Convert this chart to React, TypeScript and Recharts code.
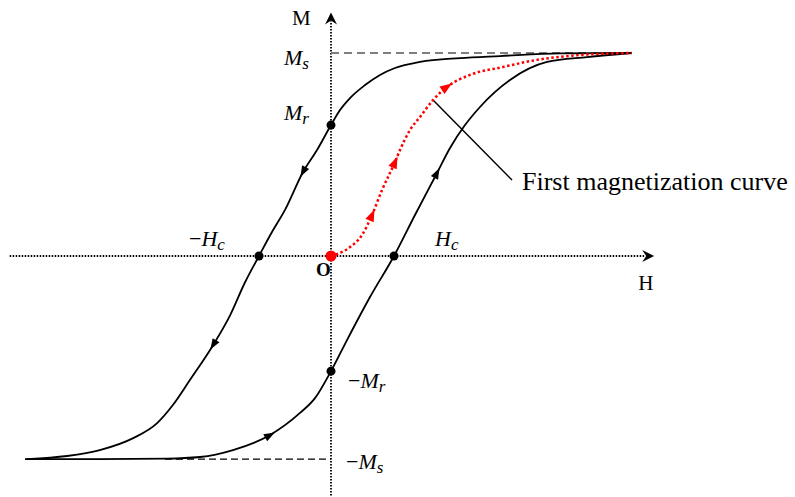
import { ComposedChart, Line, Scatter, XAxis, YAxis, ReferenceLine } from 'recharts';

const W = 795;
const HT = 497;
const H_DOMAIN: [number, number] = [-5.254, 7.365];
const M_DOMAIN: [number, number] = [-1.187, 1.261];

// descending branch (walked from +Ms down to -Ms), kept with H ascending
const upperH = [-4.83, -4.19, -3.67, -3.14, -2.76, -2.51, -2.24, -1.87, -1.6, -1.37, -1.143, -0.937, -0.73, -0.444, -0.222, 0, 0.143, 0.302, 0.54, 0.778, 1.016, 1.413, 2.048, 2.683, 3.635, 4.778];
const upperM = [-1.0, -0.985, -0.956, -0.897, -0.823, -0.734, -0.611, -0.438, -0.291, -0.133, 0, 0.118, 0.227, 0.414, 0.522, 0.645, 0.719, 0.778, 0.842, 0.892, 0.926, 0.956, 0.975, 0.985, 0.998, 1.0];

// ascending branch (-Ms back up to +Ms)
const lowerH = [-4.857, -3.667, -2.603, -2.079, -1.556, -0.968, -0.492, -0.254, 0, 0.254, 0.619, 1.0, 1.333, 1.683, 1.889, 2.127, 2.365, 2.841, 3.429, 4.063, 4.778];
const lowerM = [-1.0, -1.0, -0.998, -0.99, -0.956, -0.882, -0.773, -0.7, -0.567, -0.414, -0.202, 0, 0.202, 0.409, 0.532, 0.645, 0.734, 0.867, 0.956, 0.98, 1.0];

// first magnetization curve from the demagnetized origin
const virginH = [0, 0.302, 0.492, 0.651, 0.81, 1.016, 1.095, 1.254, 1.413, 1.619, 1.841, 2.206, 2.73, 3.27, 3.952, 4.778];
const virginM = [0, 0.044, 0.103, 0.202, 0.325, 0.463, 0.522, 0.621, 0.685, 0.768, 0.833, 0.892, 0.931, 0.966, 0.99, 1.0];

// indices along each branch that carry a direction arrow
const upperArrows = [7, 13];
const lowerArrows = [5, 13];
const virginArrows = [3, 5, 10];

const MS = 1;
const MR = 0.645;
const MR_NEG = -0.567;
const HC = 1;
const HC_NEG = -1.143;
const H_MIN = -5.1;
const H_TIP = 5.13;
const M_MIN = -1.18;
const M_TIP = 1.2;
const MS_DASH_FROM = -2.635;
const LEADER = [
  { h: 1.619, m: 0.768 },
  { h: 2.873, m: 0.374 },
];

const SX = W / (H_DOMAIN[1] - H_DOMAIN[0]);
const SY = HT / (M_DOMAIN[1] - M_DOMAIN[0]);

const zip = (h: number[], m: number[]) => h.map((v, i) => ({ h: v, m: m[i] }));
const upperData = zip(upperH, upperM);
const lowerData = zip(lowerH, lowerM);
const virginData = zip(virginH, virginM);

const SERIF = '"Liberation Serif", "Times New Roman", serif';

function rot(x: number, y: number, a: number, u: number, v: number) {
  const c = Math.cos(a);
  const s = Math.sin(a);
  return `${x + u * c - v * s},${y + u * s + v * c}`;
}

function arrowDot(h: number[], m: number[], marks: number[], reverse: boolean, color: string, len: number, half: number) {
  return (props: any) => {
    const { cx, cy, index } = props;
    if (!marks.includes(index)) return <g key={`d${index}`} />;
    const i0 = Math.max(0, index - 1);
    const i1 = Math.min(h.length - 1, index + 1);
    let dx = (h[i1] - h[i0]) * SX;
    let dy = -(m[i1] - m[i0]) * SY;
    if (reverse) {
      dx = -dx;
      dy = -dy;
    }
    const a = Math.atan2(dy, dx);
    const d = `M${rot(cx, cy, a, len / 2, 0)} L${rot(cx, cy, a, -len / 2, half)} L${rot(cx, cy, a, -len / 2, -half)} Z`;
    return <path key={`d${index}`} d={d} fill={color} stroke="none" />;
  };
}

// stealth-style arrowhead for the axes, tip at the data point
function axisHead(angle: number) {
  return (props: any) => {
    const { cx, cy } = props;
    const d = `M${rot(cx, cy, angle, 0, 0)} L${rot(cx, cy, angle, -12, 6)} L${rot(cx, cy, angle, -8, 0)} L${rot(cx, cy, angle, -12, -6)} Z`;
    return <path d={d} fill="#000" />;
  };
}

function MathText({ x, y, sign, base, sub }: { x: number; y: number; sign?: boolean; base: string; sub: string }) {
  return (
    <text x={x} y={y} fontFamily={SERIF} fontSize={22} fill="#000">
      {sign && <tspan>−</tspan>}
      <tspan fontStyle="italic">{base}</tspan>
      <tspan fontStyle="italic" fontSize={17} dy={4}>
        {sub}
      </tspan>
    </text>
  );
}

function textAt(key: string, h: number, m: number, render: (cx: number, cy: number) => any) {
  return (
    <Scatter
      key={key}
      data={[{ h, m }]}
      dataKey="m"
      isAnimationActive={false}
      shape={(p: any) => render(p.cx, p.cy)}
    />
  );
}

const dotShape = (color: string, r: number) => (p: any) => <circle cx={p.cx} cy={p.cy} r={r} fill={color} />;

export default function App() {
  return (
    <div style={{ position: 'absolute', left: 0, top: 0, width: W, height: HT, background: '#fff' }}>
      <ComposedChart width={W} height={HT} margin={{ top: 0, right: 0, bottom: 0, left: 0 }}>
        <XAxis type="number" dataKey="h" domain={H_DOMAIN} hide allowDataOverflow />
        <YAxis type="number" dataKey="m" domain={M_DOMAIN} hide allowDataOverflow />

        {/* dotted H and M axes */}
        <ReferenceLine
          segment={[{ x: H_MIN, y: 0 }, { x: H_TIP - 0.15, y: 0 }]}
          stroke="#000"
          strokeWidth={1.8}
          strokeDasharray="1.5 1.5"
          ifOverflow="visible"
        />
        <ReferenceLine
          segment={[{ x: 0, y: M_MIN }, { x: 0, y: M_TIP - 0.04 }]}
          stroke="#000"
          strokeWidth={1.8}
          strokeDasharray="1.5 1.5"
          ifOverflow="visible"
        />

        {/* saturation guides */}
        <ReferenceLine
          segment={[{ x: 0, y: MS }, { x: upperH[upperH.length - 1], y: MS }]}
          stroke="#7f7f7f"
          strokeWidth={2}
          strokeDasharray="8 5"
          ifOverflow="visible"
        />
        <ReferenceLine
          segment={[{ x: MS_DASH_FROM, y: -MS }, { x: 0, y: -MS }]}
          stroke="#000"
          strokeWidth={1.2}
          strokeDasharray="7 4"
          ifOverflow="visible"
        />

        <ReferenceLine
          segment={[{ x: LEADER[0].h, y: LEADER[0].m }, { x: LEADER[1].h, y: LEADER[1].m }]}
          stroke="#000"
          strokeWidth={1.5}
          ifOverflow="visible"
        />

        <Line
          data={upperData}
          dataKey="m"
          type="monotone"
          stroke="#000"
          strokeWidth={1.8}
          dot={arrowDot(upperH, upperM, upperArrows, true, '#000', 11, 4)}
          activeDot={false}
          isAnimationActive={false}
        />
        <Line
          data={lowerData}
          dataKey="m"
          type="monotone"
          stroke="#000"
          strokeWidth={1.8}
          dot={arrowDot(lowerH, lowerM, lowerArrows, false, '#000', 11, 4)}
          activeDot={false}
          isAnimationActive={false}
        />
        <Line
          data={virginData}
          dataKey="m"
          type="monotone"
          stroke="#ff0000"
          strokeWidth={2.5}
          strokeDasharray="2.5 2.5"
          dot={arrowDot(virginH, virginM, virginArrows, false, '#ff0000', 12, 4.5)}
          activeDot={false}
          isAnimationActive={false}
        />

        <Scatter data={[{ h: H_TIP, m: 0 }]} dataKey="m" shape={axisHead(0)} isAnimationActive={false} />
        <Scatter data={[{ h: 0, m: M_TIP }]} dataKey="m" shape={axisHead(-Math.PI / 2)} isAnimationActive={false} />

        <Scatter
          data={[
            { h: 0, m: MR },
            { h: HC_NEG, m: 0 },
            { h: HC, m: 0 },
            { h: 0, m: MR_NEG },
          ]}
          dataKey="m"
          shape={dotShape('#000', 4.5)}
          isAnimationActive={false}
        />
        <Scatter data={[{ h: 0, m: 0 }]} dataKey="m" shape={dotShape('#ff0000', 5.5)} isAnimationActive={false} />

        {textAt('M', 0, M_TIP, (x, y) => (
          <text x={x - 39} y={y + 13} fontFamily={SERIF} fontSize={21}>M</text>
        ))}
        {textAt('H', H_TIP, 0, (x, y) => (
          <text x={x - 16} y={y + 34} fontFamily={SERIF} fontSize={21}>H</text>
        ))}
        {textAt('O', 0, 0, (x, y) => (
          <text x={x - 15} y={y + 20} fontFamily={SERIF} fontSize={19} fontWeight="bold">O</text>
        ))}
        {textAt('Ms', 0, MS, (x, y) => <MathText x={x - 47} y={y + 12} base="M" sub="s" />)}
        {textAt('Mr', 0, MR, (x, y) => <MathText x={x - 47} y={y - 5} base="M" sub="r" />)}
        {textAt('-Hc', HC_NEG, 0, (x, y) => <MathText x={x - 70} y={y - 10} sign base="H" sub="c" />)}
        {textAt('Hc', HC, 0, (x, y) => <MathText x={x + 41} y={y - 10} base="H" sub="c" />)}
        {textAt('-Mr', 0, MR_NEG, (x, y) => <MathText x={x + 17} y={y + 17} sign base="M" sub="r" />)}
        {textAt('-Ms', 0, -MS, (x, y) => <MathText x={x + 15} y={y + 10} sign base="M" sub="s" />)}
        {textAt('first', LEADER[1].h, LEADER[1].m, (x, y) => (
          <text x={x + 10} y={y + 10} fontFamily={SERIF} fontSize={26}>First magnetization curve</text>
        ))}
      </ComposedChart>
    </div>
  );
}
